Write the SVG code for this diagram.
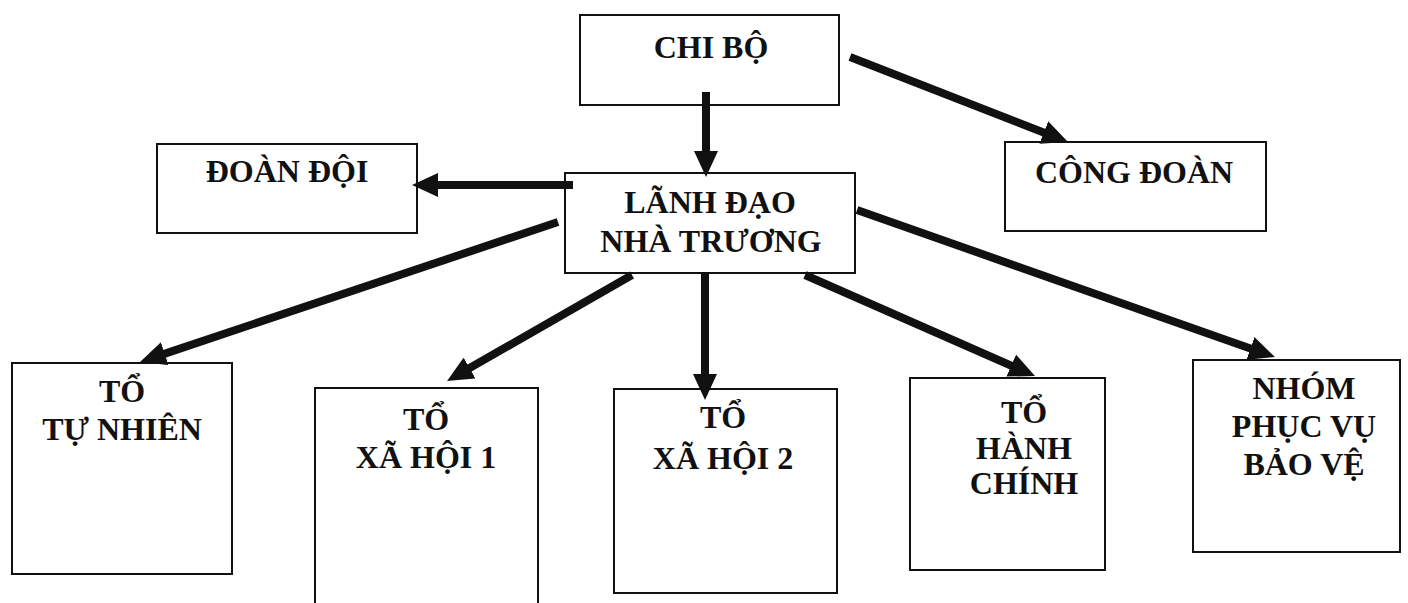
<svg xmlns="http://www.w3.org/2000/svg" width="1408" height="603" viewBox="0 0 1408 603">
<defs>
<style>
.box{fill:#fff;stroke:#111;stroke-width:2}
.lbl{font-family:"Liberation Serif","Times New Roman",serif;font-weight:bold;font-size:32px;fill:#111;text-anchor:middle}
.con{stroke:#111;stroke-width:8;fill:none;marker-end:url(#ah)}
</style>
<marker id="ah" markerUnits="userSpaceOnUse" markerWidth="26" markerHeight="24" refX="6" refY="12" orient="auto">
<path d="M0,0 L26,12 L0,24 z" fill="#111"/>
</marker>
</defs>
<rect width="1408" height="603" fill="#fff"/>
<g id="chi-bo"><rect class="box" x="580" y="15" width="259" height="90"/><text class="lbl" x="711" y="58">CHI BỘ</text></g>
<g id="lanh-dao"><rect class="box" x="565" y="173" width="290" height="100"/><text class="lbl" x="710" y="213">LÃNH ĐẠO</text><text class="lbl" x="711" y="252">NHÀ TRƯƠNG</text></g>
<g id="doan-doi"><rect class="box" x="157" y="144" width="260" height="89"/><text class="lbl" x="287" y="182">ĐOÀN ĐỘI</text></g>
<g id="cong-doan"><rect class="box" x="1005" y="142" width="261" height="89"/><text class="lbl" x="1134" y="183">CÔNG ĐOÀN</text></g>
<g id="to-tu-nhien"><rect class="box" x="12" y="363" width="220" height="211"/><text class="lbl" x="122" y="402">TỔ</text><text class="lbl" x="122" y="440">TỰ NHIÊN</text></g>
<g id="to-xa-hoi-1"><rect class="box" x="315" y="388" width="223" height="225"/><text class="lbl" x="426" y="430">TỔ</text><text class="lbl" x="426" y="468">XÃ HỘI 1</text></g>
<g id="to-xa-hoi-2"><rect class="box" x="614" y="389" width="223" height="204"/><text class="lbl" x="723" y="428">TỔ</text><text class="lbl" x="723" y="469">XÃ HỘI 2</text></g>
<g id="to-hanh-chinh"><rect class="box" x="910" y="378" width="195" height="192"/><text class="lbl" x="1024" y="423">TỔ</text><text class="lbl" x="1024" y="459">HÀNH</text><text class="lbl" x="1024" y="494">CHÍNH</text></g>
<g id="nhom-phuc-vu"><rect class="box" x="1193" y="360" width="207" height="192"/><text class="lbl" x="1304" y="399">NHÓM</text><text class="lbl" x="1304" y="437">PHỤC VỤ</text><text class="lbl" x="1304" y="475">BẢO VỆ</text></g>
<g id="connectors">
<line class="con" x1="706" y1="92" x2="706" y2="157"/>
<line class="con" x1="850" y1="57" x2="1049.4" y2="134.7"/>
<line class="con" x1="573" y1="185" x2="432" y2="185"/>
<line class="con" x1="558" y1="222" x2="159" y2="355.6"/>
<line class="con" x1="632" y1="275" x2="464.4" y2="371"/>
<line class="con" x1="705" y1="273" x2="705" y2="380"/>
<line class="con" x1="805" y1="275" x2="1016.7" y2="368"/>
<line class="con" x1="857" y1="210" x2="1256.1" y2="350.4"/>
</g>
</svg>
